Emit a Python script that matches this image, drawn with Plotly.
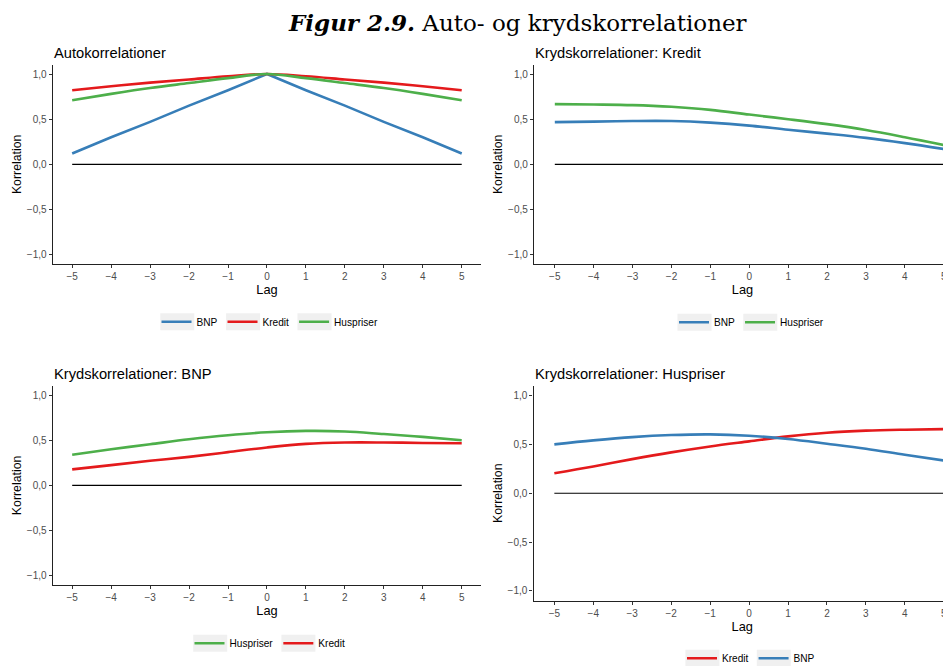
import plotly.graph_objects as go

# page offset of the plot div (browser body margin)
OX, OY = 8, 8
W, H = 943, 658

lags = [-5, -4, -3, -2, -1, 0, 1, 2, 3, 4, 5]

# Panel 1: Autokorrelationer
auto_bnp = [0.12, 0.30, 0.47, 0.65, 0.82, 1.00, 0.82, 0.65, 0.47, 0.30, 0.12]
auto_kredit = [0.82, 0.865, 0.905, 0.94, 0.975, 1.00, 0.975, 0.94, 0.905, 0.865, 0.82]
auto_huspriser = [0.71, 0.78, 0.845, 0.90, 0.955, 1.00, 0.955, 0.90, 0.845, 0.78, 0.71]

# Panel 2: Krydskorrelationer: Kredit
kk_bnp = [0.467, 0.473, 0.48, 0.48, 0.462, 0.429, 0.383, 0.34, 0.293, 0.235, 0.17]
kk_huspriser = [0.667, 0.663, 0.656, 0.637, 0.603, 0.551, 0.50, 0.445, 0.38, 0.30, 0.214]

# Panel 3: Krydskorrelationer: BNP
kb_huspriser = [0.34, 0.40, 0.455, 0.51, 0.555, 0.588, 0.603, 0.597, 0.568, 0.537, 0.50]
kb_kredit = [0.177, 0.224, 0.272, 0.316, 0.368, 0.42, 0.46, 0.475, 0.475, 0.47, 0.466]

# Panel 4: Krydskorrelationer: Huspriser
kh_kredit = [0.206, 0.275, 0.35, 0.419, 0.48, 0.532, 0.583, 0.621, 0.642, 0.652, 0.658]
kh_bnp = [0.501, 0.542, 0.576, 0.597, 0.604, 0.59, 0.556, 0.508, 0.457, 0.395, 0.336]

zero_x = [-5, 5]
zero_y = [0, 0]

ytick_vals = [-1.0, -0.5, 0.0, 0.5, 1.0]
ytick_text = ["\u22121,0", "\u22120,5", "0,0", "0,5", "1,0"]
xtick_vals = [-5, -4, -3, -2, -1, 0, 1, 2, 3, 4, 5]
xtick_text = ["\u22125", "\u22124", "\u22123", "\u22122", "\u22121", "0", "1", "2", "3", "4", "5"]

BLUE = "#377EB8"
RED = "#E41A1C"
GREEN = "#4DAF4A"
FONT = "Liberation Sans, Arial, sans-serif"


def fx(px):
    return (px - OX) / W


def fy(py):
    return 1 - (py - OY) / H


panels = [
    dict(title="Autokorrelationer", series=[("BNP", auto_bnp, BLUE, "linear"),
                                            ("Kredit", auto_kredit, RED, "spline"),
                                            ("Huspriser", auto_huspriser, GREEN, "spline")],
         xpx=(52.7, 481.2), ypx=(65.0, 263.7), xr=(-5.5, 5.5), leg=(270, 321.7),
         keys=[177.3, 243.1, 314.5]),
    dict(title="Krydskorrelationer: Kredit", series=[("BNP", kk_bnp, BLUE, "spline"),
                                                     ("Huspriser", kk_huspriser, GREEN, "spline")],
         xpx=(534.0, 951.0), ypx=(65.0, 263.7), xr=(-5.535, 5.185), leg=(751.5, 322.3),
         keys=[694.5, 760.3]),
    dict(title="Krydskorrelationer: BNP", series=[("Huspriser", kb_huspriser, GREEN, "spline"),
                                                  ("Kredit", kb_kredit, RED, "spline")],
         xpx=(52.7, 481.2), ypx=(386.0, 584.8), xr=(-5.5, 5.5), leg=(270, 643.3),
         keys=[210.2, 298.4]),
    dict(title="Krydskorrelationer: Huspriser", series=[("Kredit", kh_kredit, RED, "spline"),
                                                        ("BNP", kh_bnp, BLUE, "spline")],
         xpx=(533.5, 951.0), ypx=(386.0, 600.5), xr=(-5.535, 5.185), leg=(751, 658.3),
         keys=[702.4, 773.8]),
]

fig = go.Figure()
layout = dict(
    width=W, height=H,
    margin=dict(l=0, r=0, t=0, b=0, autoexpand=False),
    paper_bgcolor="white", plot_bgcolor="white",
    font=dict(family=FONT, color="black"),
    showlegend=True,
)
annotations = []
shapes = []

for i, p in enumerate(panels, start=1):
    sfx = "" if i == 1 else str(i)
    xa, ya = "x" + sfx, "y" + sfx
    legname = "legend" + sfx
    fig.add_trace(go.Scatter(x=zero_x, y=zero_y, mode="lines", line=dict(color="black", width=1.2),
                             xaxis=xa, yaxis=ya, showlegend=False, hoverinfo="skip"))
    for name, vals, col, shape in p["series"]:
        fig.add_trace(go.Scatter(x=lags, y=vals, mode="lines", name=name,
                                 line=dict(color=col, width=2.6, shape=shape),
                                 xaxis=xa, yaxis=ya, legend=legname))
    x0, x1 = fx(p["xpx"][0]), fx(p["xpx"][1])
    y0, y1 = fy(p["ypx"][1]), fy(p["ypx"][0])
    layout["xaxis" + sfx] = dict(
        domain=[x0, x1], range=list(p["xr"]), anchor=ya,
        tickmode="array", tickvals=xtick_vals, ticktext=xtick_text,
        showline=True, linecolor="#222222", linewidth=1.3,
        ticks="outside", ticklen=3, tickwidth=1, tickcolor="#333333",
        tickfont=dict(size=10, color="#4D4D4D", family=FONT),
        showgrid=False, zeroline=False, automargin=False,
        title=dict(text="Lag", font=dict(size=12.8, color="black", family=FONT), standoff=1),
    )
    layout["yaxis" + sfx] = dict(
        domain=[y0, y1], range=[-1.1, 1.1], anchor=xa,
        tickmode="array", tickvals=ytick_vals, ticktext=ytick_text,
        showline=True, linecolor="#222222", linewidth=1.3,
        ticks="outside", ticklen=3, tickwidth=1, tickcolor="#333333",
        tickfont=dict(size=10, color="#4D4D4D", family=FONT),
        showgrid=False, zeroline=False, automargin=False,
        title=dict(text="Korrelation", font=dict(size=12.3, color="black", family=FONT), standoff=2),
    )
    layout[legname] = dict(
        orientation="h", x=fx(p["leg"][0]), y=fy(p["leg"][1]),
        xanchor="center", yanchor="middle",
        bgcolor="rgba(0,0,0,0)", font=dict(size=10.1, color="black", family=FONT),
        itemwidth=30, tracegroupgap=0,
    )
    # grey legend key backgrounds (ggplot style)
    ky = p["leg"][1]
    for kx in p["keys"]:
        shapes.append(dict(type="rect", xref="paper", yref="paper",
                           x0=fx(kx - 17), x1=fx(kx + 17), y0=fy(ky + 8.5), y1=fy(ky - 8.5),
                           fillcolor="#F0F0F0", line=dict(width=0), layer="below"))
    annotations.append(dict(
        text=p["title"], xref="paper", yref="paper",
        x=fx(p["xpx"][0] - 1), y=fy(p["ypx"][0] - 2),
        xanchor="left", yanchor="bottom", showarrow=False,
        font=dict(size=14.7, color="black", family=FONT),
    ))

annotations.append(dict(
    text="<b><i>Figur 2.9.</i></b> Auto- og krydskorrelationer",
    xref="paper", yref="paper", x=fx(517), y=fy(22),
    xanchor="center", yanchor="middle", showarrow=False,
    font=dict(size=23, color="black", family="DejaVu Serif, serif"),
))

layout["annotations"] = annotations
layout["shapes"] = shapes
fig.update_layout(**layout)
fig.write_html("out.html")
